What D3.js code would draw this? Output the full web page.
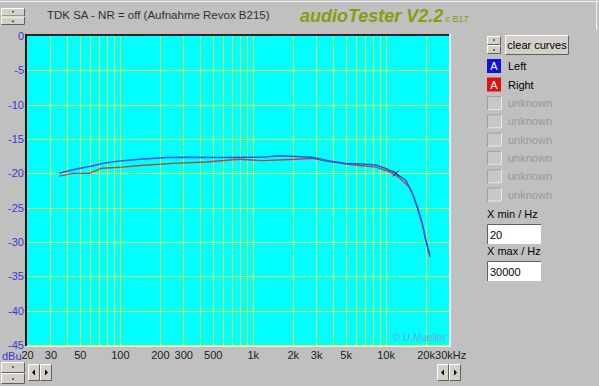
<html>
<head>
<meta charset="utf-8">
<script src="https://d3js.org/d3.v7.min.js"></script>
<style>
body { margin: 0; background: #c0c0c0; }
svg { display: block; font-family: "Liberation Sans", Arial, sans-serif; }
</style>
</head>
<body>
<svg id="chart" width="599" height="386"></svg>
<script>

// measured response, freq in Hz, level in dBu
var leftFreq = [35, 46, 59, 79, 105, 141, 224, 335, 592, 1183, 1585, 2118, 2807, 3767, 5030, 6660, 8440, 10040, 11930, 14180, 15900, 17330, 18890, 20040, 21470]
var leftDb   = [-20.0, -19.4, -19.0, -18.45, -18.15, -17.95, -17.7, -17.65, -17.7, -17.65, -17.45, -17.55, -17.65, -18.2, -18.55, -18.65, -18.8, -19.3, -20.0, -21.0, -22.9, -24.9, -27.3, -29.7, -31.9]

var rightFreq = [35, 44, 59, 73, 105, 141, 250, 447, 794, 1183, 2118, 2807, 3767, 5030, 6660, 8440, 10620, 12620, 15010, 16200, 17540, 19100, 20250, 21600]
var rightDb   = [-20.4, -20.0, -20.0, -19.25, -19.1, -18.85, -18.55, -18.35, -17.95, -18.15, -17.95, -17.8, -18.3, -18.65, -18.9, -19.1, -19.75, -20.6, -21.95, -23.3, -25.3, -27.8, -30.0, -32.2]

var yTicks = [0, -5, -10, -15, -20, -25, -30, -35, -40, -45]
var xTicks = [20, 30, 50, 100, 200, 300, 500, 1000, 2000, 3000, 5000, 10000, 20000, 30000]
var xTickLabels = ["20", "30", "50", "100", "200", "300", "500", "1k", "2k", "3k", "5k", "10k", "20k", "30kHz"]
var channels = ["Left", "Right"]
var unknownRows = 6

var svg = d3.select("#chart")

var x = d3.scaleLog().domain([20, 30000]).range([27, 449])
var y = d3.scaleLinear().domain([-45, 0]).range([345, 36])

// window frame lines
svg.append("line").attr("x1", 0).attr("x2", 599).attr("y1", 1.5).attr("y2", 1.5).attr("stroke", "#f4f4f4")
svg.append("line").attr("x1", 596.5).attr("x2", 596.5).attr("y1", 0).attr("y2", 30).attr("stroke", "#f4f4f4")

// plot area
svg.append("rect").attr("x", 27).attr("y", 36).attr("width", 422).attr("height", 309).attr("fill", "#00ffff")

// grid
var gridF = []
;[10, 100, 1000, 10000].forEach(function(dec) {
	for (var k = 1; k <= 9; k++) {
		var f = dec * k
		if (f > 20 && f < 30000) gridF.push(f)
	}
})
svg.append("g").selectAll("line").data(gridF).enter().append("line")
	.attr("x1", d => Math.round(x(d)) + 0.5).attr("x2", d => Math.round(x(d)) + 0.5)
	.attr("y1", 36).attr("y2", 345)
	.attr("stroke", "#d8ff48").attr("stroke-width", 1)
svg.append("g").selectAll("line").data(yTicks.slice(1)).enter().append("line")
	.attr("x1", 27).attr("x2", 449)
	.attr("y1", d => Math.round(y(d)) + 0.5).attr("y2", d => Math.round(y(d)) + 0.5)
	.attr("stroke", "#d8ff48").attr("stroke-width", 1)

// borders (sunken)
svg.append("line").attr("x1", 26).attr("x2", 450).attr("y1", 35).attr("y2", 35).attr("stroke", "#202020").attr("stroke-width", 2)
svg.append("line").attr("x1", 26).attr("x2", 26).attr("y1", 34).attr("y2", 346).attr("stroke", "#101010").attr("stroke-width", 2)
svg.append("line").attr("x1", 450).attr("x2", 450).attr("y1", 34).attr("y2", 347).attr("stroke", "#f0f0f0").attr("stroke-width", 2)
svg.append("line").attr("x1", 26).attr("x2", 451).attr("y1", 346.5).attr("y2", 346.5).attr("stroke", "#f0f0f0").attr("stroke-width", 1)

// copyright
svg.append("text").attr("x", 446).attr("y", 341).attr("text-anchor", "end")
	.attr("font-size", 10).attr("fill", "#7aa8c8").text("© U.Mueller")

// curves
var line = d3.line().x(d => x(d[0])).y(d => y(d[1]))
svg.append("path").datum(rightFreq.map((f, i) => [f, rightDb[i]]))
	.attr("d", line).attr("fill", "none").attr("stroke", "#c04040").attr("stroke-width", 1.4)
svg.append("path").datum(leftFreq.map((f, i) => [f, leftDb[i]]))
	.attr("d", line).attr("fill", "none").attr("stroke", "#2050ff").attr("stroke-width", 1.5)
// small cursor mark
svg.append("path")
	.attr("d", "M" + (x(11930) - 3) + "," + (y(-20) - 3) + "l6,6M" + (x(11930) + 3) + "," + (y(-20) - 3) + "l-6,6")
	.attr("stroke", "#202080").attr("stroke-width", 1)

// y axis
var yAxis = svg.append("g").attr("transform", "translate(24,0)")
	.call(d3.axisLeft(y).tickValues(yTicks).tickSize(0).tickPadding(0).tickFormat(d => d))
yAxis.select(".domain").remove()
yAxis.selectAll("text").attr("fill", "#3838d0").attr("font-size", 11)
	.attr("font-family", "'Liberation Sans', Arial, sans-serif")

// x axis
var xAxis = svg.append("g").attr("transform", "translate(0,348)")
	.call(d3.axisBottom(x).tickValues(xTicks).tickSize(0).tickPadding(3)
		.tickFormat((d, i) => xTickLabels[i]))
xAxis.select(".domain").remove()
xAxis.selectAll("text").attr("fill", "#202020").attr("font-size", 11)
	.attr("font-family", "'Liberation Sans', Arial, sans-serif")
xAxis.selectAll("text").filter((d, i) => i == xTicks.length - 1).attr("dx", "0.1em")
svg.append("text").attr("x", 2).attr("y", 360).attr("fill", "#3838d0").attr("font-size", 11).text("dBu")

// helpers for windows controls
function button3d(g, bx, by, w, h) {
	g.append("rect").attr("x", bx).attr("y", by).attr("width", w).attr("height", h).attr("fill", "#d4d0c8")
	g.append("path").attr("d", `M${bx + 0.5},${by + h - 0.5}V${by + 0.5}H${bx + w - 0.5}`).attr("fill", "none").attr("stroke", "#ffffff")
	g.append("path").attr("d", `M${bx + 0.5},${by + h - 0.5}H${bx + w - 0.5}V${by + 0.5}`).attr("fill", "none").attr("stroke", "#606060")
}
function spinner(g, bx, by, w, h) {
	button3d(g, bx, by, w, h / 2)
	button3d(g, bx, by + h / 2, w, h / 2)
	g.append("rect").attr("x", bx + w / 2 - 1).attr("y", by + h / 4 - 1).attr("width", 2).attr("height", 1).attr("fill", "#000")
	g.append("rect").attr("x", bx + w / 2 - 1).attr("y", by + 3 * h / 4).attr("width", 2).attr("height", 1).attr("fill", "#000")
}
function arrows(g, bx, by) {
	button3d(g, bx, by, 12, 17)
	button3d(g, bx + 12, by, 12, 17)
	g.append("path").attr("d", `M${bx + 4},${by + 8.5}l3,-3v6z`).attr("fill", "#000")
	g.append("path").attr("d", `M${bx + 20},${by + 8.5}l-3,-3v6z`).attr("fill", "#000")
}

var ctl = svg.append("g")
spinner(ctl, 1, 8, 24, 17)
spinner(ctl, 1, 362, 24, 22)
arrows(ctl, 28, 364)
arrows(ctl, 437, 364)

// titles
svg.append("text").attr("x", 47).attr("y", 19).attr("font-size", 11.5).attr("fill", "#303030")
	.text("TDK SA - NR = off (Aufnahme Revox B215)")
var tt = svg.append("text").attr("x", 300).attr("y", 22)
tt.append("tspan").attr("font-size", 18).attr("font-weight", "bold").attr("font-style", "italic")
	.attr("fill", "#8c9a10").text("audioTester V2.2")
tt.append("tspan").attr("font-size", 9).attr("fill", "#8c9a10").attr("dx", 2).text("c B17")

// right panel
spinner(ctl, 487, 36, 14, 18)
button3d(ctl, 505, 35, 64, 20)
svg.append("text").attr("x", 537).attr("y", 49).attr("text-anchor", "middle").attr("font-size", 11).attr("fill", "#000").text("clear curves")

var chanColors = ["#1010e0", "#e01010"]
var rows = svg.append("g").selectAll("g").data(channels).enter().append("g")
	.attr("transform", (d, i) => `translate(0,${59 + i * 18.5})`)
rows.append("rect").attr("x", 487).attr("y", 0).attr("width", 14).attr("height", 14).attr("fill", (d, i) => chanColors[i])
rows.append("text").attr("x", 494).attr("y", 11).attr("text-anchor", "middle").attr("font-size", 11).attr("fill", "#fff").text("A")
rows.append("text").attr("x", 508).attr("y", 11).attr("font-size", 11).attr("fill", "#000").text(d => d)

var unk = svg.append("g").selectAll("g").data(d3.range(unknownRows)).enter().append("g")
	.attr("transform", d => `translate(0,${96 + d * 18.3})`)
unk.append("rect").attr("x", 487).attr("y", 0).attr("width", 14).attr("height", 14).attr("fill", "#c8c8c8")
unk.append("path").attr("d", "M487.5,14V0.5H501").attr("fill", "none").attr("stroke", "#a0a0a0")
unk.append("path").attr("d", "M488,13.5H501.5V0.5").attr("fill", "none").attr("stroke", "#e8e8e8")
unk.append("text").attr("x", 508).attr("y", 11).attr("font-size", 11).attr("fill", "#989898").text("unknown")

function field(label, val, ty) {
	svg.append("text").attr("x", 487).attr("y", ty).attr("font-size", 11).attr("fill", "#000").text(label)
	svg.append("rect").attr("x", 487).attr("y", ty + 6).attr("width", 54).attr("height", 20).attr("fill", "#fff")
	svg.append("path").attr("d", `M487.5,${ty + 26}V${ty + 6.5}H541`).attr("fill", "none").attr("stroke", "#606060")
	svg.append("text").attr("x", 490).attr("y", ty + 21).attr("font-size", 11).attr("fill", "#000").text(val)
}
field("X min / Hz", "20", 218)
field("X max / Hz", "30000", 255)

</script>
</body>
</html>
